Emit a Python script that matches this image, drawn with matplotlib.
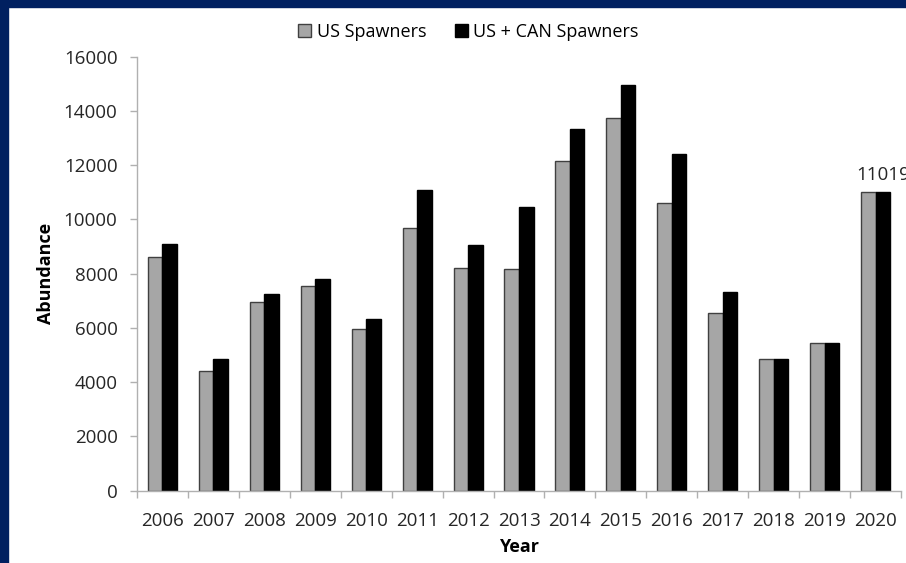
import numpy as np
import matplotlib.pyplot as plt
from matplotlib.patches import Rectangle

years = ['2006', '2007', '2008', '2009', '2010', '2011', '2012', '2013',
         '2014', '2015', '2016', '2017', '2018', '2019', '2020']
us_spawners = [8600, 4410, 6970, 7530, 5950, 9670, 8220, 8185,
               12165, 13750, 10595, 6565, 4855, 5455, 11019]
us_can_spawners = [9095, 4865, 7240, 7805, 6320, 11095, 9055, 10470,
                   13345, 14965, 12425, 7310, 4855, 5455, 11019]
label_value = 11019

plt.rcParams['font.family'] = ['Open Sans', 'DejaVu Sans']

fig = plt.figure(figsize=(9.06, 5.63), dpi=100)
# navy frame at the left and top
fig.patches.append(Rectangle((0, 0), 8 / 906, 1, transform=fig.transFigure,
                             color='#002060', zorder=0))
fig.patches.append(Rectangle((0, 1 - 7 / 563), 1, 7 / 563, transform=fig.transFigure,
                             color='#002060', zorder=0))

ax = fig.add_axes([0.1512, 0.1284, 0.8433, 0.7709])

x = np.arange(len(years))
w = 0.285
b1 = ax.bar(x - w / 2, us_spawners, w, color='#a6a6a6', edgecolor='#404040',
            linewidth=1, label='US Spawners')
b2 = ax.bar(x + w / 2, us_can_spawners, w, color='black', edgecolor='black',
            linewidth=1, label='US + CAN Spawners')

ax.text(x[-1] + w / 2, label_value + 300, str(label_value), ha='center', va='bottom',
        fontsize=13.5, color='#262626', clip_on=False)

ax.set_ylim(0, 16000)
ax.set_yticks(np.arange(0, 16001, 2000))
ax.set_xlim(-0.5, len(years) - 0.5)
ax.set_xticks(np.arange(-0.5, len(years), 1))
ax.set_xticklabels([])
ax.set_xticks(x, minor=True)
ax.set_xticklabels(years, minor=True)
ax.tick_params(axis='x', which='minor', length=0, pad=15, labelsize=13.5, labelcolor='#262626')
ax.tick_params(axis='x', which='major', length=5, color='#b0b0b0', width=1)
ax.tick_params(axis='y', length=5, color='#b0b0b0', width=1, pad=9,
               labelsize=13.5, labelcolor='#262626')

for s in ['top', 'right']:
    ax.spines[s].set_visible(False)
for s in ['left', 'bottom']:
    ax.spines[s].set_color('#b0b0b0')
    ax.spines[s].set_linewidth(1)

ax.set_ylabel('Abundance', fontsize=13, fontweight='bold', labelpad=6)
ax.set_xlabel('Year', fontsize=13, fontweight='bold', labelpad=6)

fig.legend(handles=[b1, b2], loc='center', bbox_to_anchor=(0.517, 0.943), ncol=2,
           frameon=False, fontsize=13, handlelength=0.7, handleheight=0.7,
           handletextpad=0.3, columnspacing=1.6)

fig.savefig('out.png', dpi=100)
